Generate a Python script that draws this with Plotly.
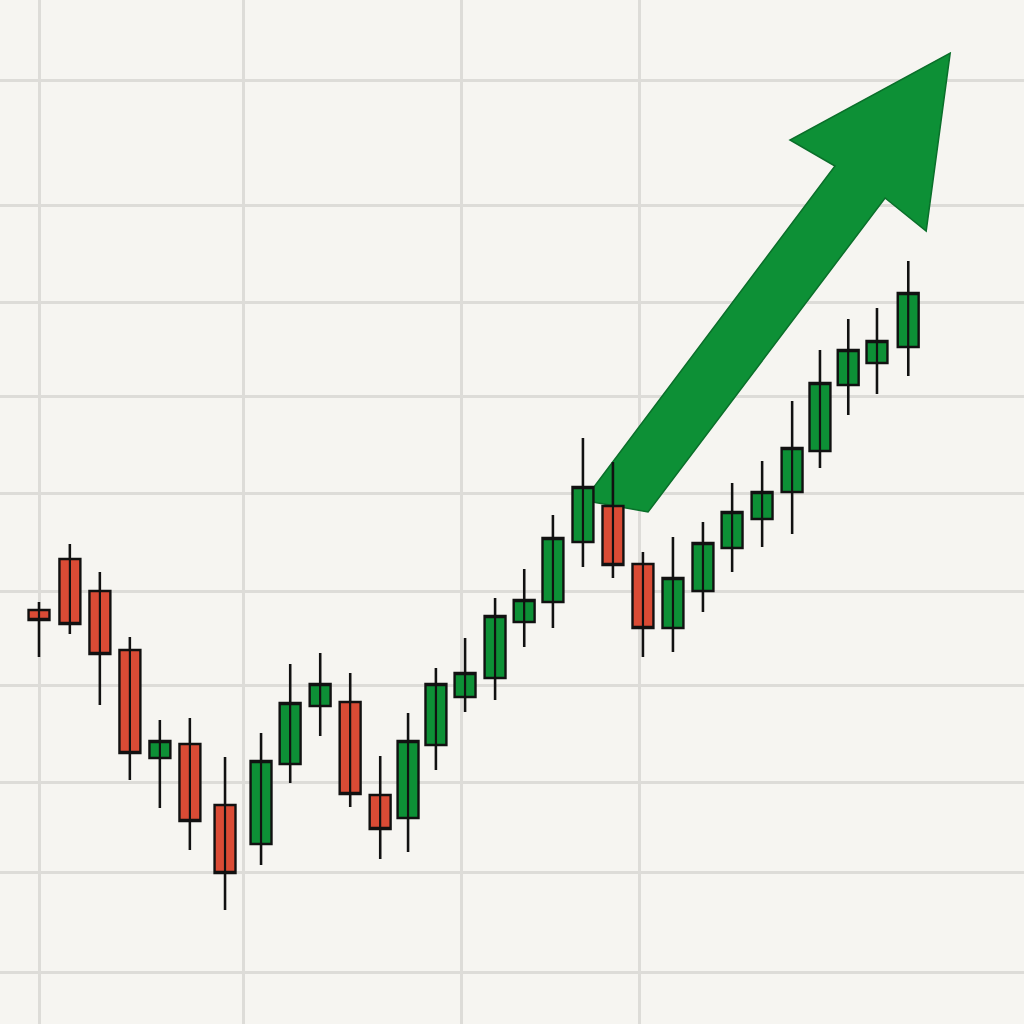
import plotly.graph_objects as go

# Session positions (trading days, hand-drawn spacing)
day = [0, 1.03, 2.03, 3.03, 4.03, 5.03, 6.2, 7.4, 8.37, 9.37,
       10.37, 11.37, 12.3, 13.23, 14.2, 15.2, 16.17, 17.13, 18.13, 19.13,
       20.13, 21.13, 22.13, 23.1, 24.1, 25.1, 26.03, 26.97, 27.93, 28.97]

open_ = [41.4, 46.5, 43.3, 37.4, 26.6, 28.0, 21.9, 18.0, 26.0, 31.8,
         32.2, 22.9, 20.6, 27.9, 32.7, 34.6, 40.2, 42.2, 48.2, 51.8,
         46.0, 39.6, 43.3, 47.6, 50.5, 53.2, 57.3, 63.9, 66.1, 67.7]
high = [42.2, 48.0, 45.2, 38.7, 30.4, 30.6, 26.7, 29.1, 36.0, 37.1,
        35.1, 26.8, 31.1, 35.6, 38.6, 42.6, 45.5, 50.9, 58.6, 56.2,
        47.2, 48.7, 50.2, 54.1, 56.3, 62.3, 67.4, 70.5, 71.6, 76.3]
low = [36.7, 39.0, 31.9, 24.4, 21.6, 17.4, 11.4, 15.9, 24.1, 28.8,
       21.7, 16.5, 17.2, 25.4, 31.2, 32.4, 37.7, 39.6, 45.7, 44.6,
       36.7, 37.2, 41.2, 45.2, 47.7, 49.0, 55.6, 60.9, 63.0, 64.8]
close = [40.4, 40.0, 37.0, 27.1, 28.3, 20.3, 15.1, 26.3, 32.1, 34.0,
         23.0, 19.5, 28.3, 34.0, 35.1, 40.8, 42.4, 48.6, 53.7, 45.9,
         39.6, 44.6, 48.1, 51.2, 53.2, 57.6, 64.1, 67.4, 68.3, 73.1]

# Hand-drawn grid positions
grid_x = [0.03, 6.8, 14.07, 20.03]
grid_y = [94.4, 81.9, 72.2, 62.8, 53.1, 43.3, 33.9, 24.2, 15.2, 5.2]

# Big trend arrow outline (x in days, y in price)
arrow_x = [18.47, 18.47, 20.3, 28.2, 29.57, 30.37, 25.03, 26.53]
arrow_y = [53.6, 52.2, 51.2, 82.6, 79.3, 97.1, 88.4, 85.8]

BG = "#f6f5f1"
GREEN = "#0d9036"
RED = "#da4b35"
INK = "#111111"

fig = go.Figure()
fig.add_trace(go.Candlestick(
    x=day, open=open_, high=high, low=low, close=close,
    increasing=dict(fillcolor=GREEN, line=dict(color=INK, width=2.4)),
    decreasing=dict(fillcolor=RED, line=dict(color=INK, width=2.4)),
    whiskerwidth=0,
    hoverinfo="skip",
    showlegend=False,
))

# sketchy wick strokes drawn through the bodies
wx, wy = [], []
for d, h, l in zip(day, high, low):
    wx += [d, d, None]
    wy += [h, l, None]
fig.add_trace(go.Scatter(x=wx, y=wy, mode="lines",
                         line=dict(color=INK, width=2.2),
                         hoverinfo="skip", showlegend=False))

path = "M " + " L ".join(f"{x},{y}" for x, y in zip(arrow_x, arrow_y)) + " Z"
fig.add_shape(type="path", path=path, xref="x", yref="y",
              fillcolor=GREEN, line=dict(color="#0a6f2a", width=1.5),
              layer="between")

fig.update_layout(
    width=1024, height=1024,
    margin=dict(l=0, r=0, t=0, b=0),
    paper_bgcolor=BG, plot_bgcolor=BG,
    boxgap=0.25, boxgroupgap=0,
    showlegend=False,
)
fig.update_xaxes(range=[-1.3, 32.83], tickvals=grid_x, showticklabels=False,
                 showgrid=True, gridcolor="#dddcd8", gridwidth=3,
                 zeroline=False, showline=False, rangeslider=dict(visible=False),
                 fixedrange=True)
fig.update_yaxes(range=[0, 102.4], tickvals=grid_y, showticklabels=False,
                 showgrid=True, gridcolor="#dddcd8", gridwidth=3,
                 zeroline=False, showline=False, fixedrange=True)

fig.write_html("out.html", config={"displayModeBar": False},
               post_script=f"document.body.style.margin='0';document.body.style.background='{BG}';")
